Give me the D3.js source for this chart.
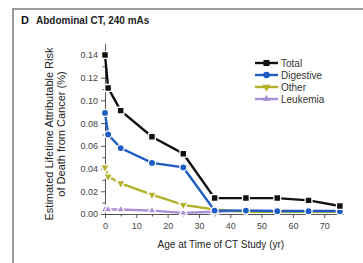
<!DOCTYPE html>
<html><head><meta charset="utf-8">
<script src="https://cdn.jsdelivr.net/npm/d3@7"></script>
<style>
html,body{margin:0;padding:0;background:#fff;}
svg{display:block;}
text{font-family:"Liberation Sans Narrow","Liberation Sans",Arial,sans-serif;}
</style></head>
<body>
<script>
const ages = [0, 1, 5, 15, 25, 35, 45, 55, 65, 75];
const total = [0.140, 0.111, 0.091, 0.068, 0.053, 0.014, 0.014, 0.014, 0.012, 0.007];
const digestive = [0.089, 0.070, 0.058, 0.045, 0.041, 0.003, 0.003, 0.0025, 0.0025, 0.0025];
const other = [0.041, 0.033, 0.027, 0.017, 0.008, 0.004, 0.002, 0.002, 0.002, 0.002];
const leukemia = [0.004, 0.004, 0.004, 0.003, 0.001, 0.002, 0.003, 0.003, 0.003, 0.003];
const seriesNames = ["Total", "Digestive", "Other", "Leukemia"];
const xTicks = [0, 10, 20, 30, 40, 50, 60, 70];
const yTicks = [0, 0.02, 0.04, 0.06, 0.08, 0.10, 0.12, 0.14];

const colors = ["#111111", "#1d5cc4", "#b3b02a", "#a68fd4"];
const symbols = [d3.symbolSquare, d3.symbolCircle, "down", d3.symbolTriangle];
const sizes = [46, 40, 36, 28];
const values = [total, digestive, other, leukemia];

const W = 363, H = 263;
const svg = d3.select("body").append("svg").attr("width", W).attr("height", H);

// frame
svg.append("line").attr("x1", 13).attr("x2", W).attr("y1", 9).attr("y2", 9).attr("stroke", "#9a9a9a").attr("stroke-width", 2);
svg.append("line").attr("x1", 13).attr("x2", 13).attr("y1", 8).attr("y2", H).attr("stroke", "#9a9a9a").attr("stroke-width", 2);

// title
svg.append("text").attr("x", 21).attr("y", 24).attr("font-size", 11).attr("font-weight", "bold").attr("fill", "#111").text("D");
svg.append("text").attr("x", 36).attr("y", 24).attr("font-size", 10).attr("font-weight", "bold").attr("fill", "#222").text("Abdominal CT, 240 mAs");

const x = d3.scaleLinear().domain([0, 76]).range([105, 343]);
const y = d3.scaleLinear().domain([0, 0.15]).range([214, 43.6]);

// axes
const xAxis = d3.axisBottom(x).tickValues(d3.range(0, 76, 5)).tickSize(4).tickSizeOuter(0)
  .tickFormat(d => xTicks.includes(d) ? d : "");
const gx = svg.append("g").attr("transform", `translate(0,${y(0)})`).call(xAxis);
const yAxis = d3.axisLeft(y).tickValues(d3.range(0, 0.1451, 0.01)).tickSize(4).tickSizeOuter(0)
  .tickFormat(d => yTicks.some(t => Math.abs(t - d) < 1e-9) ? d3.format(".2f")(d) : "");
const gy = svg.append("g").attr("transform", `translate(${x(0)},0)`).call(yAxis);
[gx, gy].forEach(g => {
  g.selectAll("path,line").attr("stroke", "#555").attr("stroke-width", 1);
  g.selectAll("text").attr("fill", "#444").attr("font-size", 9)
    .style("font-family", '"Liberation Sans Narrow","Liberation Sans",Arial,sans-serif');
});
gy.selectAll(".tick line").attr("x2", function(d){ return yTicks.some(t => Math.abs(t - d) < 1e-9) ? -4 : -2.5; });
gx.selectAll(".tick line").attr("y2", function(d){ return xTicks.includes(d) ? 4 : 2.5; });
gx.selectAll("text").attr("dy", "0.9em");

// axis titles
svg.append("text").attr("x", x(37)).attr("y", 248).attr("text-anchor", "middle").attr("font-size", 10).attr("fill", "#222").text("Age at Time of CT Study (yr)");
const yt = svg.append("text").attr("transform", "translate(53,134) rotate(-90)").attr("text-anchor", "middle").attr("font-size", 11).attr("fill", "#222");
yt.append("tspan").attr("x", 0).attr("dy", 0).text("Estimated Lifetime Attributable Risk");
yt.append("tspan").attr("x", 0).attr("dy", 12).text("of Death from Cancer (%)");

function symPath(i, size) {
  if (symbols[i] === "down") return d3.symbol().type(d3.symbolTriangle).size(size)();
  return d3.symbol().type(symbols[i]).size(size)();
}

const line = d3.line().x(d => x(d[0])).y(d => y(d[1]));
// draw in reverse order so Total is on top
for (let i = values.length - 1; i >= 0; i--) {
  const pts = ages.map((a, j) => [a, values[i][j]]);
  const g = svg.append("g");
  g.append("path").datum(pts).attr("d", line).attr("fill", "none")
    .attr("stroke", colors[i]).attr("stroke-width", 2.4);
  g.selectAll("path.m").data(pts).enter().append("path").attr("class", "m")
    .attr("d", symPath(i, sizes[i]))
    .attr("transform", d => `translate(${x(d[0])},${y(d[1])})` + (symbols[i] === "down" ? " rotate(180)" : ""))
    .attr("fill", colors[i]).attr("stroke", "#fff").attr("stroke-width", 1.3);
}

// legend
const lg = svg.append("g");
seriesNames.forEach((n, i) => {
  const ly = 63 + i * 12;
  lg.append("line").attr("x1", 255).attr("x2", 278).attr("y1", ly).attr("y2", ly)
    .attr("stroke", colors[i]).attr("stroke-width", 2.4);
  lg.append("path").attr("d", symPath(i, sizes[i] * 0.8))
    .attr("transform", `translate(266.5,${ly})` + (symbols[i] === "down" ? " rotate(180)" : ""))
    .attr("fill", colors[i]);
  lg.append("text").attr("x", 281).attr("y", ly + 3.5).attr("font-size", 10).attr("fill", "#333").text(n);
});
</script>
</body></html>
